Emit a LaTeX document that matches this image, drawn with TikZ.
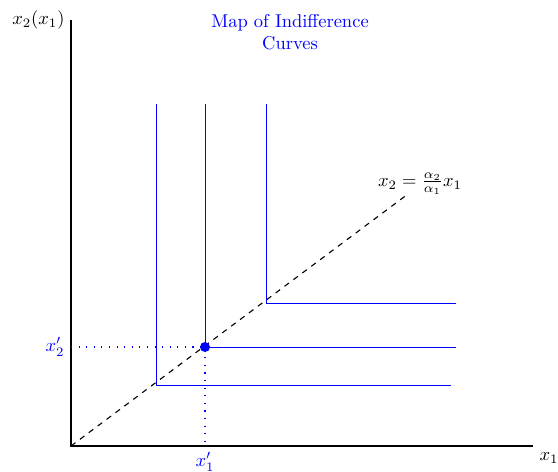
\documentclass[tikz,border=0pt]{standalone}
\usepackage{amsmath}
\usepackage{amssymb}
\usepackage{xcolor}
\usetikzlibrary{arrows.meta,calc}

\begin{document}
\begin{tikzpicture}[x=0.54pt,y=0.54pt,
    curve/.style={blue},
    guide/.style={blue,line width=0.6pt,dash pattern=on 0.6pt off 3.5pt}]
  \useasboundingbox (0,0) rectangle (558,471);
  % axes
  \coordinate (O) at (71,25);
  \coordinate (xend) at (533,25);
  \coordinate (yend) at (71,451);
  \draw[semithick] (yend) -- (O) -- (xend);
  \node[left] (ylab) at (yend) {$x_2(x_1)$};
  \node[below right] (xlab) at (xend) {$x_1$};
  \node[blue,align=center] (title) at (290,439) {Map of Indifference\\Curves};

  % expansion path
  \coordinate (ray) at (408,277);
  \draw[semithick,dashed] (O) -- (ray);
  \node (raylab) at (420,287) {$x_2=\frac{\alpha_2}{\alpha_1}x_1$};

  % L-shaped curves
  \foreach \cx/\cy/\hx [count=\i] in {156/86/451,205/124/456,266/168/456}{
    \coordinate (c\i) at (\cx,\cy);
    \draw[curve] (\cx,367) -- (c\i) -- (\hx,\cy);
  }

  % chosen bundle
  \draw[guide] (O |- c2) -- (c2) -- (c2 |- O);
  \fill[blue] (c2) circle (5);
  \node[blue,left] (x2p) at (O |- c2) {$x_2'$};
  \node[blue,below] (x1p) at (c2 |- O) {$x_1'$};
\end{tikzpicture}
\end{document}
